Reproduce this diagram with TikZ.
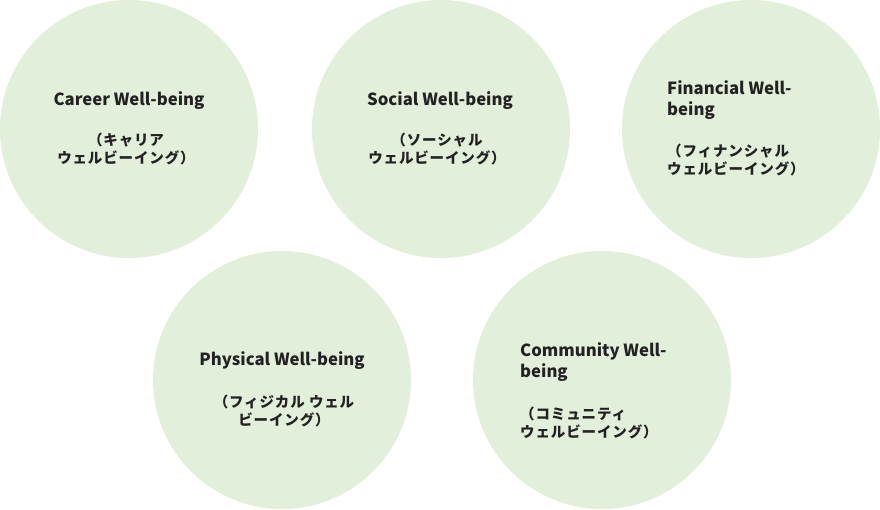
\documentclass[tikz,border=0pt]{standalone}
\usepackage{fontspec}
\setmainfont{Noto Sans CJK JP}
\newfontfamily\kanafont{Noto Sans CJK JP}[LetterSpace=6]
\usetikzlibrary{positioning}

\definecolor{ballgreen}{HTML}{E2EFDA}
\definecolor{inkgray}{HTML}{222222}

\tikzset{
  ball/.style={circle, fill=ballgreen, draw=none, minimum size=258pt, inner sep=0pt},
  head/.style={inner sep=0pt, text=inkgray, font=\bfseries\fontsize{16.7}{21}\selectfont},
  kana/.style={inner sep=0pt, text=inkgray, font=\kanafont\bfseries\fontsize{14.5}{18.5}\selectfont}
}

\begin{document}
\begin{tikzpicture}[x=1pt, y=-1pt]
\useasboundingbox (0,0) rectangle (880,509);
% the five circles
\node[ball] (career) at (129,129) {};
\node[ball] (social) at (441,129) {};
\node[ball] (financial) at (751,129) {};
\node[ball] (physical) at (282,380) {};
\node[ball] (community) at (602,380) {};
% career
\node[head] (careerEn) at (129,101) {Career Well-being};
\node[kana, align=center] (careerJp) at (126,149) {（キャリア\\ウェルビーイング）};
% social
\node[head] (socialEn) at (440,101) {Social Well-being};
\node[kana, align=center] (socialJp) at (437,149) {（ソーシャル\\ウェルビーイング）};
% financial
\node[head, align=left, anchor=west] (financialEn) at (667,100) {Financial Well-\\being};
\node[kana, align=left, anchor=west] (financialJp) at (667,160) {（フィナンシャル\\ウェルビーイング）};
% physical
\node[head] (physicalEn) at (282,361) {Physical Well-being};
\node[kana, align=center] (physicalJp) at (284,411) {（フィジカル ウェル\\ビーイング）};
% community
\node[head, align=left, anchor=west] (communityEn) at (520,362) {Community Well-\\being};
\node[kana, align=left, anchor=west] (communityJp) at (520,423) {（コミュニティ\\ウェルビーイング）};
\end{tikzpicture}
\end{document}
